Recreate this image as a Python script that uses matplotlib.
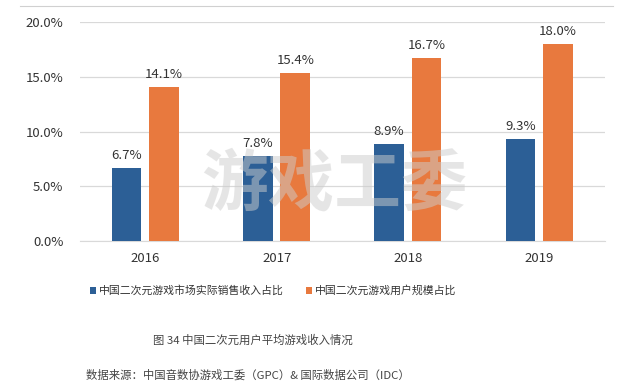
import numpy as np
import matplotlib.pyplot as plt

plt.rcParams['font.family'] = ['Noto Sans CJK SC', 'DejaVu Sans']

# Data
years = ['2016', '2017', '2018', '2019']
revenue_share = [6.7, 7.8, 8.9, 9.3]
user_share = [14.1, 15.4, 16.7, 18.0]
labels = ['中国二次元游戏市场实际销售收入占比', '中国二次元游戏用户规模占比']
yticks = [0, 5, 10, 15, 20]

blue = '#2C5F96'
orange = '#E8793E'

fig = plt.figure(figsize=(6.25, 3.89), dpi=100)
ax = fig.add_axes([0.128, 0.38, 0.84, 0.563])

x = np.arange(len(years))
w = 0.225
b1 = ax.bar(x - 0.145, revenue_share, w, color=blue, label=labels[0], zorder=3)
b2 = ax.bar(x + 0.14, user_share, w, color=orange, label=labels[1], zorder=3)

for bars, vals in ((b1, revenue_share), (b2, user_share)):
    for r, v in zip(bars, vals):
        ax.text(r.get_x() + r.get_width() / 2, v + 0.55, f'{v:.1f}%',
                ha='center', va='bottom', fontsize=9.5, color='#333333', zorder=5)

ax.set_xlim(-0.5, 3.5)
ax.set_ylim(0, 20)
ax.set_yticks(yticks)
ax.set_yticklabels([f'{t:.1f}%' for t in yticks], fontsize=9.5, color='#333333')
ax.set_xticks(x)
ax.set_xticklabels(years, fontsize=9.5, color='#333333')
ax.tick_params(length=0, pad=8)
ax.tick_params(axis='y', pad=12)
ax.grid(axis='y', color='#D9D9D9', linewidth=0.9, zorder=0)
for s in ('top', 'right', 'left'):
    ax.spines[s].set_visible(False)
ax.spines['bottom'].set_color('#D9D9D9')

# watermark
fig.text(0.535, 0.525, '游戏工委', fontsize=48, fontweight='bold', color='#CDCDCD',
         alpha=0.5, ha='center', va='center', zorder=10)

fig.legend(handles=[b1, b2], loc='center', bbox_to_anchor=(0.437, 0.253), ncol=2,
           frameon=False, fontsize=7.8, handlelength=0.6, handleheight=0.6,
           handletextpad=0.25, columnspacing=2.0, labelcolor='#333333')

# top border line
fig.add_artist(plt.Line2D([0.032, 0.98], [0.984, 0.984], color='#D0D0D0', linewidth=0.8))

fig.text(0.405, 0.125, '图 34 中国二次元用户平均游戏收入情况', ha='center', va='center',
         fontsize=8.2, color='#444444')
fig.text(0.397, 0.035, '数据来源：中国音数协游戏工委（GPC）& 国际数据公司（IDC）', ha='center', va='center',
         fontsize=8.2, color='#444444')

fig.savefig('out.png', dpi=100)
